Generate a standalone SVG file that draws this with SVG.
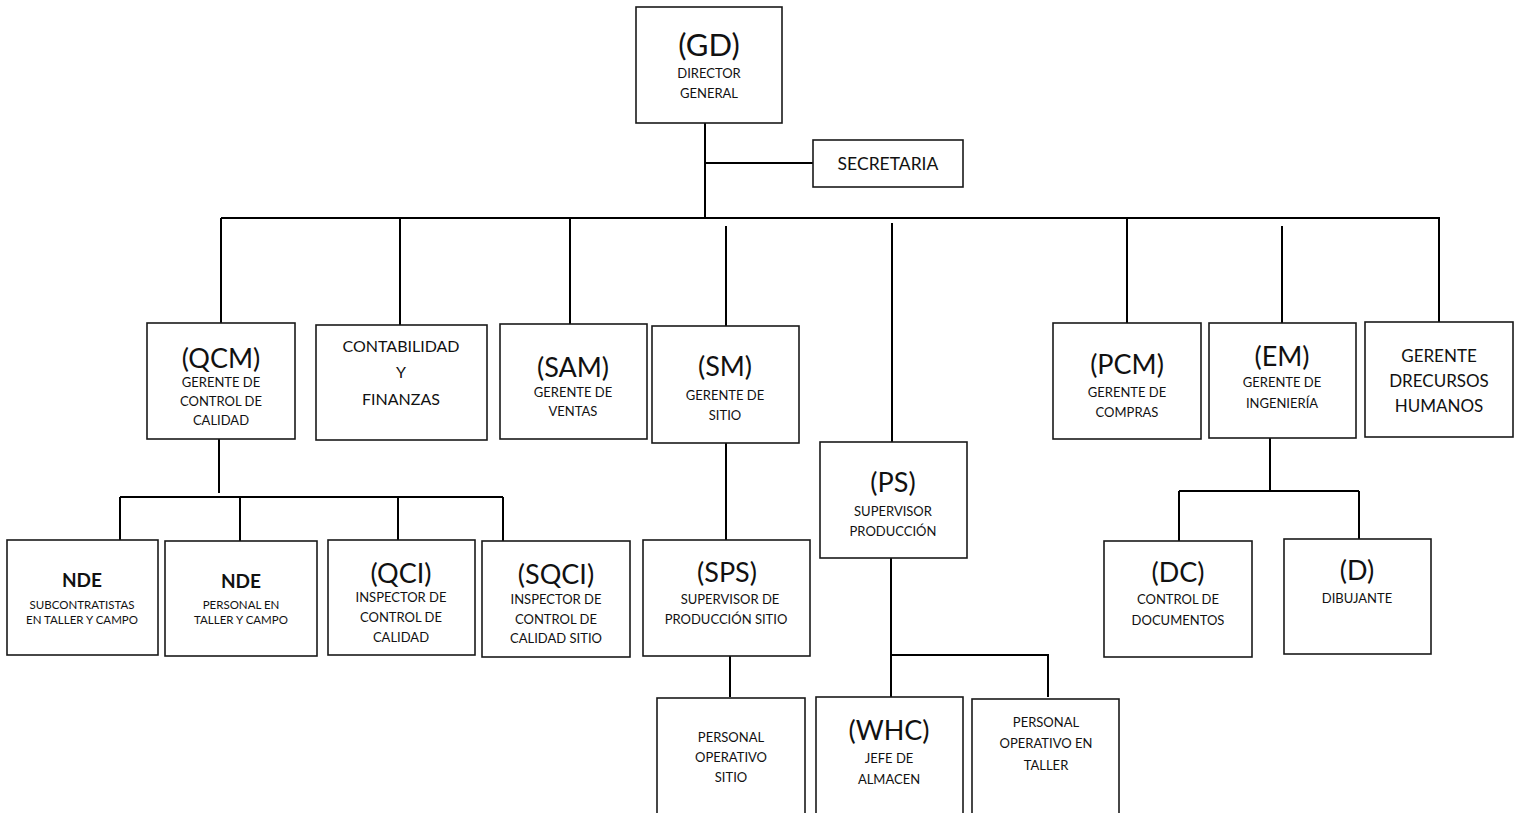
<svg xmlns="http://www.w3.org/2000/svg" width="1519" height="813" viewBox="0 0 1519 813">
<style>
.box{fill:#fff;stroke:#1a1a1a;stroke-width:1.6}
.ln{stroke:#000;stroke-width:2;fill:none}
text{font-family:Lato,"Liberation Sans",sans-serif;fill:#111;text-anchor:middle}
.big{font-size:27px}
.sm{font-size:13px}
.md{font-size:17px}
.md2{font-size:16px}
.xs{font-size:11.5px}
.b{font-size:19px;font-weight:bold}
</style>
<rect width="1519" height="813" fill="#fff"/>
<g id="connectors">
<path class="ln" d="M705 123V218M705 163H813"/>
<path class="ln" d="M221 218H1440"/>
<path class="ln" d="M221 218V323M400 218V325M570 218V324M726 226V326M892 223V442M1127 218V323M1282 226V323M1439 218V322"/>
<path class="ln" d="M219 439V493M120 497H503M120 497V540M240 497V541M398 497V540M503 497V541"/>
<path class="ln" d="M726 443V540M730 655V697"/>
<path class="ln" d="M891 558V697M891 655H1048V697"/>
<path class="ln" d="M1270 438V491M1179 491H1359M1179 491V541M1359 491V539"/>
</g>
<g id="gd"><rect class="box" x="636" y="7" width="146" height="116"/>
<text class="big" x="709" y="56" style="font-size:31px">(GD)</text><text class="sm" x="709" y="78">DIRECTOR</text><text class="sm" x="709" y="98">GENERAL</text></g>
<g id="secretaria"><rect class="box" x="813" y="140" width="150" height="47"/>
<text class="md" x="888" y="170" style="font-size:17.5px">SECRETARIA</text></g>
<g id="qcm"><rect class="box" x="147" y="323" width="148" height="116"/>
<text class="big" x="221" y="368">(QCM)</text><text class="sm" x="221" y="387">GERENTE DE</text><text class="sm" x="221" y="406">CONTROL DE</text><text class="sm" x="221" y="425">CALIDAD</text></g>
<g id="contabilidad"><rect class="box" x="316" y="325" width="171" height="115"/>
<text class="md2" x="401" y="352">CONTABILIDAD</text><text class="md2" x="401" y="378">Y</text><text class="md2" x="401" y="405">FINANZAS</text></g>
<g id="sam"><rect class="box" x="500" y="324" width="147" height="115"/>
<text class="big" x="573" y="377">(SAM)</text><text class="sm" x="573" y="397">GERENTE DE</text><text class="sm" x="573" y="416">VENTAS</text></g>
<g id="sm"><rect class="box" x="652" y="326" width="147" height="117"/>
<text class="big" x="725" y="376">(SM)</text><text class="sm" x="725" y="400">GERENTE DE</text><text class="sm" x="725" y="420">SITIO</text></g>
<g id="ps"><rect class="box" x="820" y="442" width="147" height="116"/>
<text class="big" x="893" y="492">(PS)</text><text class="sm" x="893" y="516">SUPERVISOR</text><text class="sm" x="893" y="536">PRODUCCIÓN</text></g>
<g id="pcm"><rect class="box" x="1053" y="323" width="148" height="116"/>
<text class="big" x="1127" y="374">(PCM)</text><text class="sm" x="1127" y="397">GERENTE DE</text><text class="sm" x="1127" y="417">COMPRAS</text></g>
<g id="em"><rect class="box" x="1209" y="323" width="147" height="115"/>
<text class="big" x="1282" y="366">(EM)</text><text class="sm" x="1282" y="387">GERENTE DE</text><text class="sm" x="1282" y="408">INGENIERÍA</text></g>
<g id="rh"><rect class="box" x="1365" y="322" width="148" height="115"/>
<text class="md" x="1439" y="362">GERENTE</text><text class="md" x="1439" y="387">DRECURSOS</text><text class="md" x="1439" y="412">HUMANOS</text></g>
<g id="nde1"><rect class="box" x="7" y="540" width="151" height="115"/>
<text class="b" x="82" y="587">NDE</text><text class="xs" x="82" y="609">SUBCONTRATISTAS</text><text class="xs" x="82" y="624">EN TALLER Y CAMPO</text></g>
<g id="nde2"><rect class="box" x="165" y="541" width="152" height="115"/>
<text class="b" x="241" y="588">NDE</text><text class="xs" x="241" y="609">PERSONAL EN</text><text class="xs" x="241" y="624">TALLER Y CAMPO</text></g>
<g id="qci"><rect class="box" x="328" y="540" width="147" height="115"/>
<text class="big" x="401" y="583">(QCI)</text><text class="sm" x="401" y="602">INSPECTOR DE</text><text class="sm" x="401" y="622">CONTROL DE</text><text class="sm" x="401" y="642">CALIDAD</text></g>
<g id="sqci"><rect class="box" x="482" y="541" width="148" height="116"/>
<text class="big" x="556" y="584">(SQCI)</text><text class="sm" x="556" y="604">INSPECTOR DE</text><text class="sm" x="556" y="624">CONTROL DE</text><text class="sm" x="556" y="643">CALIDAD SITIO</text></g>
<g id="sps"><rect class="box" x="643" y="540" width="167" height="116"/>
<text class="big" x="727" y="582">(SPS)</text><text class="sm" x="730" y="604">SUPERVISOR DE</text><text class="sm" x="726" y="624">PRODUCCIÓN SITIO</text></g>
<g id="pos"><rect class="box" x="657" y="698" width="148" height="125"/>
<text class="sm" x="731" y="742">PERSONAL</text><text class="sm" x="731" y="762">OPERATIVO</text><text class="sm" x="731" y="782">SITIO</text></g>
<g id="whc"><rect class="box" x="816" y="697" width="147" height="126"/>
<text class="big" x="889" y="740">(WHC)</text><text class="sm" x="889" y="763">JEFE DE</text><text class="sm" x="889" y="784">ALMACEN</text></g>
<g id="pot"><rect class="box" x="972" y="699" width="147" height="124"/>
<text class="sm" x="1046" y="727">PERSONAL</text><text class="sm" x="1046" y="748">OPERATIVO EN</text><text class="sm" x="1046" y="770">TALLER</text></g>
<g id="dc"><rect class="box" x="1104" y="541" width="148" height="116"/>
<text class="big" x="1178" y="582">(DC)</text><text class="sm" x="1178" y="604">CONTROL DE</text><text class="sm" x="1178" y="625">DOCUMENTOS</text></g>
<g id="d"><rect class="box" x="1284" y="539" width="147" height="115"/>
<text class="big" x="1357" y="580">(D)</text><text class="sm" x="1357" y="603">DIBUJANTE</text></g>
</svg>
